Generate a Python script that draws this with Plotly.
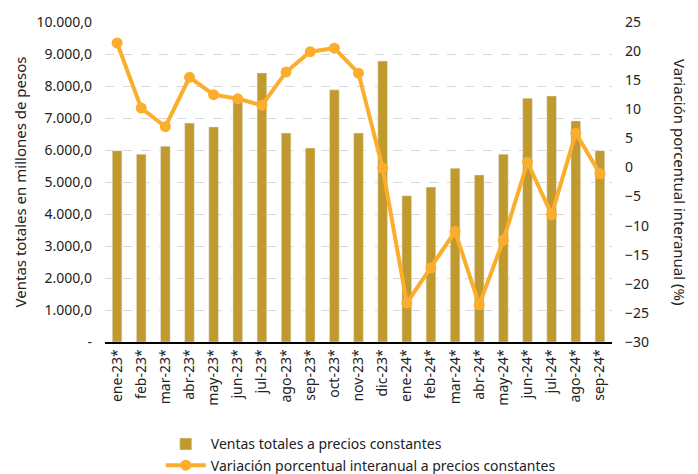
import plotly.graph_objects as go

categories = ["ene-23*", "feb-23*", "mar-23*", "abr-23*", "may-23*", "jun-23*", "jul-23*",
              "ago-23*", "sep-23*", "oct-23*", "nov-23*", "dic-23*", "ene-24*", "feb-24*",
              "mar-24*", "abr-24*", "may-24*", "jun-24*", "jul-24*", "ago-24*", "sep-24*"]
ventas = [5980, 5870, 6120, 6840, 6720, 7560, 8410, 6530, 6060, 7880, 6530, 8780,
          4570, 4840, 5430, 5220, 5870, 7620, 7690, 6910, 5980]
variacion = [21.4, 10.2, 7.0, 15.5, 12.5, 11.8, 10.7, 16.4, 19.9, 20.5, 16.2, -0.1,
             -23.3, -17.3, -11.0, -23.6, -12.5, 0.9, -8.1, 5.9, -1.1]
left_ticks = [0, 1000, 2000, 3000, 4000, 5000, 6000, 7000, 8000, 9000, 10000]
left_labels = ["-", "1.000,0", "2.000,0", "3.000,0", "4.000,0", "5.000,0", "6.000,0",
               "7.000,0", "8.000,0", "9.000,0", "10.000,0"]
right_ticks = [25, 20, 15, 10, 5, 0, -5, -10, -15, -20, -25, -30]

FONT = "Noto Sans"
fig = go.Figure()
fig.add_trace(go.Bar(x=categories, y=ventas, name="Ventas totales a precios constantes",
                     marker_color="#C09A2E", yaxis="y"))
fig.add_trace(go.Scatter(x=categories, y=variacion, name="Variación porcentual interanual a precios constantes",
                         mode="lines+markers", line=dict(color="#FBAE2D", width=4),
                         marker=dict(size=11, color="#FBAE2D"), yaxis="y2"))

fig.update_layout(
    width=698, height=474,
    margin=dict(l=105, r=86, t=22, b=132, autoexpand=False),
    plot_bgcolor="white", paper_bgcolor="white",
    font=dict(family=FONT, size=14, color="#222"),
    bargap=0.6,
    showlegend=True,
    legend=dict(orientation="v", x=0.11, y=-0.27, xanchor="left", yanchor="top",
                font=dict(size=14), tracegroupgap=2, itemwidth=40),
    xaxis=dict(tickangle=-90, showline=True, linecolor="black", linewidth=1.5,
               range=[-0.5, len(categories) - 0.5],
               ticks="", showgrid=False, tickfont=dict(size=14), automargin=False),
    yaxis=dict(range=[0, 10000], tickvals=left_ticks, ticktext=left_labels,
               showgrid=True, gridcolor="#D9D9D9", griddash="dash", zeroline=False,
               ticks="", tickfont=dict(size=14), automargin=False, ticklabelstandoff=12,
               title=dict(text="Ventas totales en millones de pesos", font=dict(size=15), standoff=6)),
    yaxis2=dict(range=[-30, 25], tickvals=right_ticks, overlaying="y", side="right",
                showgrid=False, zeroline=False, ticks="", tickfont=dict(size=14), automargin=False,
                ticklabelstandoff=12),
    annotations=[dict(text="Variación porcentual interanual (%)", textangle=90,
                      xref="paper", yref="paper", x=1.134, xanchor="center", y=0.5, showarrow=False,
                      font=dict(size=15, family=FONT))],
)
fig.write_html("out.html", config={"displayModeBar": False},
               post_script="document.body.style.margin='0';document.body.style.overflow='hidden';")
